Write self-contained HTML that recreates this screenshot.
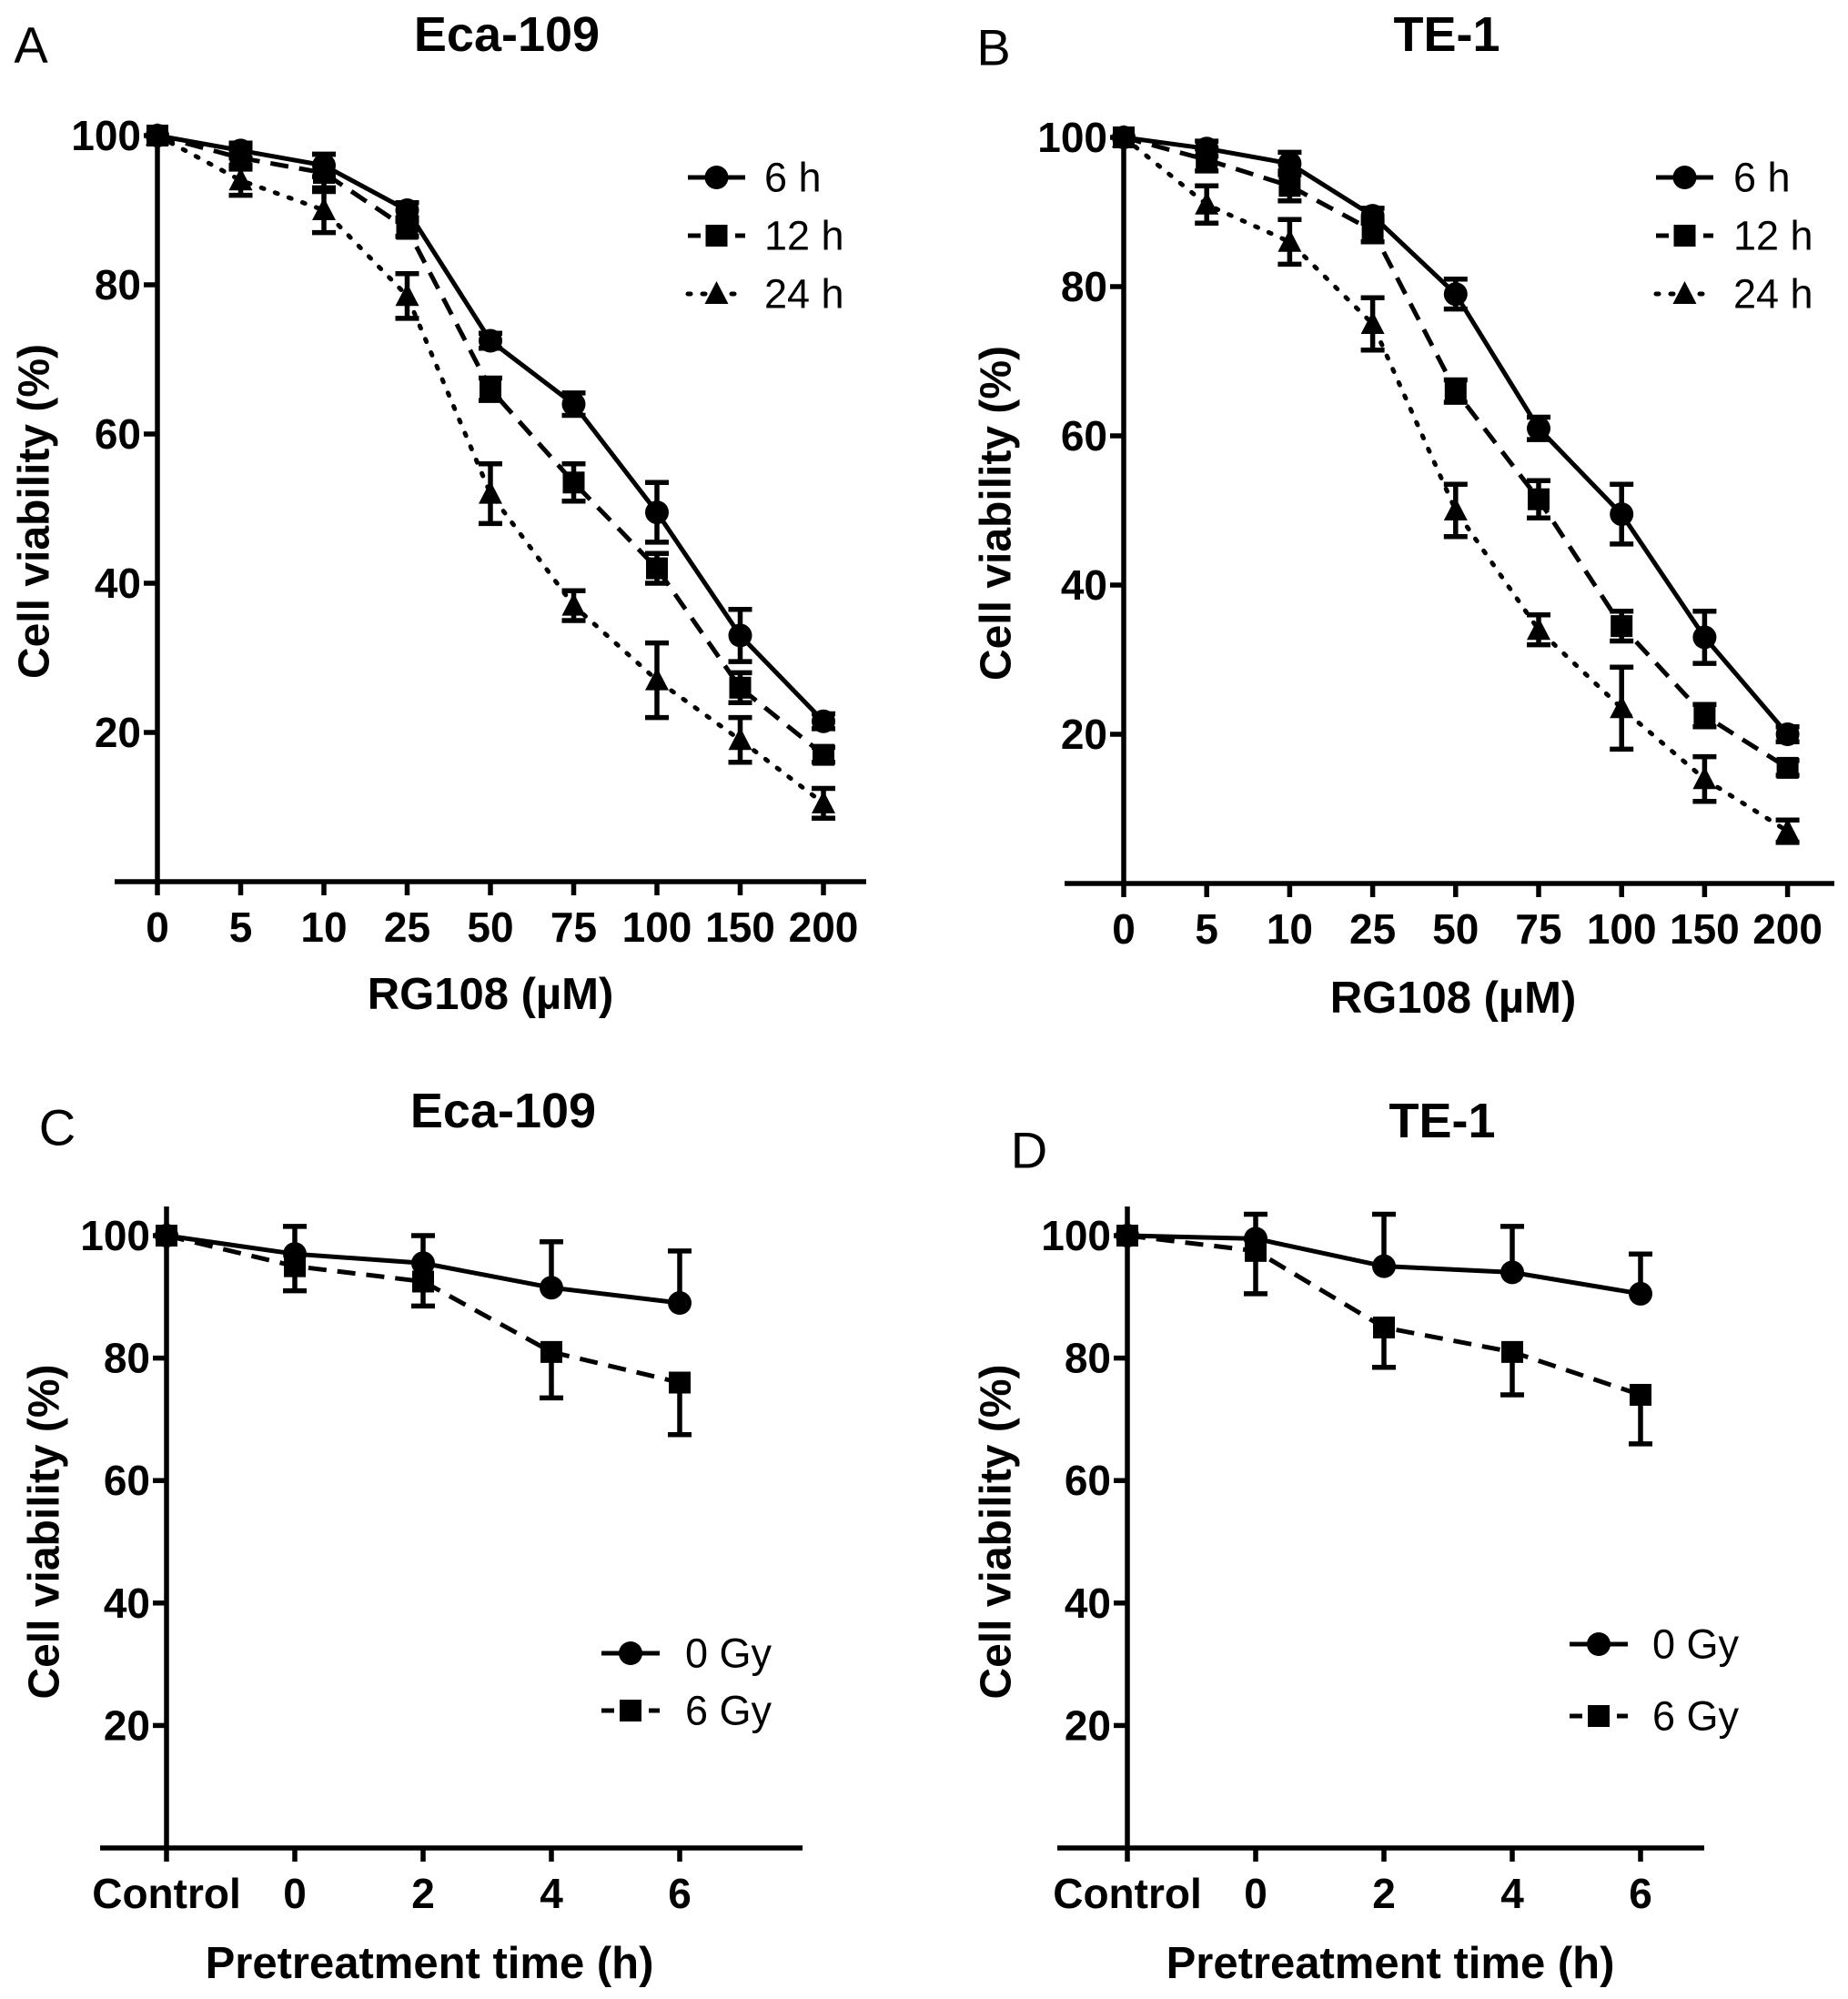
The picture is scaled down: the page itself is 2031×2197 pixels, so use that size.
<!DOCTYPE html>
<html><head><meta charset="utf-8">
<style>
body{margin:0;background:#fff;}
svg{display:block;}
text{font-family:"Liberation Sans",Arial,sans-serif;fill:#000;}
</style></head>
<body>
<svg id="fig" width="2031" height="2197" viewBox="0 0 2031 2197" xmlns="http://www.w3.org/2000/svg"></svg>
<script>
// Panel A/B data
const doseLabels = ["0","5","10","25","50","75","100","150","200"];
const yTicksTop = [20,40,60,80,100];
const a6 = [100,98,96,90,72.5,64,49.5,33,21.5];
const a6e = [0,1,1.5,1,1,1.5,4,3.5,1];
const a12 = [100,97,95,87.5,66,53.5,42,26,17];
const a12e = [0,1.5,2.5,1,1.5,2.5,2,2,1];
const a24 = [100,94,90,78.5,52,37,27,19,10.5];
const a24e = [0,2,3,3,4,2,5,3,2];
const b6 = [100,98.5,96.5,89.5,79,61,49.5,33,20];
const b6e = [0,1,1.5,1,2,1.5,4,3.5,1];
const b12 = [100,97,93.5,87.5,66,51.5,34.5,22.5,15.5];
const b12e = [0,1.5,2,1.5,1.5,2.5,2,1.5,1];
const b24 = [100,91,86,75,50,34,23.5,14,7];
const b24e = [0,2.5,3,3.5,3.5,2,5.5,3,1.5];
// Panel C/D data
const timeLabels = ["Control","0","2","4","6"];
const c0 = [100,97,95.5,91.5,89];
const c0e = [0,4.5,4.5,7.5,8.5];
const c6 = [100,95,92.5,81,76];
const c6e = [0,4,4,7.5,8.5];
const d0 = [100,99.5,95,94,90.5];
const d0e = [0,4,8.5,7.5,6.5];
const d6 = [100,97.5,85,81,74];
const d6e = [0,7,6.5,7,8];

const NS="http://www.w3.org/2000/svg";
const svg=document.getElementById('fig');
function el(tag,attrs,parent){const e=document.createElementNS(NS,tag);for(const k in attrs)e.setAttribute(k,attrs[k]);(parent||svg).appendChild(e);return e;}
function txt(s,x,y,size,bold,anchor,parent,name,rot){
  const t=el('text',{x:x,y:y,'font-size':size,'text-anchor':anchor||'middle','dominant-baseline':'central'},parent);
  if(bold)t.setAttribute('font-weight','bold');
  if(rot)t.setAttribute('transform','rotate(-90 '+x+' '+y+')');
  t.textContent=s;
  
  
  return t;}
const dashes={solid:null,dash:"20 12",dot:"3 13"};
function marker(kind,x,y,g){
  let m;
  if(kind==='circle')m=el('circle',{cx:x,cy:y,r:13,fill:'#000'},g);
  else if(kind==='square')m=el('rect',{x:x-12,y:y-12,width:24,height:24,fill:'#000'},g);
  else m=el('polygon',{points:(x)+','+(y-14)+' '+(x-13)+','+(y+11)+' '+(x+13)+','+(y+11),fill:'#000'},g);
  return m;}

function panel(o){
  const g=el('g',{});
  
  
  const n=o.labels.length;
  const xs=i=>o.x0+i*o.dx;
  const ys=v=>o.y0-v*o.ky;
  const ax=el('line',{x1:o.xa0,y1:o.y0,x2:o.xa1,y2:o.y0,stroke:'#000','stroke-width':5.5},g);
  
  const ay=el('line',{x1:o.x0,y1:o.y0+2,x2:o.x0,y2:o.ytop,stroke:'#000','stroke-width':5.5},g);
  
  for(let i=0;i<n;i++){
    const t=el('line',{x1:xs(i),y1:o.y0,x2:xs(i),y2:o.y0+15,stroke:'#000','stroke-width':5.5},g);
    
    txt(o.labels[i],xs(i),o.y0+50,46,true,'middle',g,'x-tick-label');
  }
  for(const v of o.yt){
    const t=el('line',{x1:o.x0-15,y1:ys(v),x2:o.x0,y2:ys(v),stroke:'#000','stroke-width':5.5},g);
    
    txt(String(v),o.x0-18,ys(v),46,true,'end',g,'y-tick-label');
  }
  txt(o.title,o.tx,o.ty,54,true,'middle',g,'chart-title');
  txt(o.letter,o.lx,o.ly,56,false,'middle',g,'panel-label');
  txt('Cell viability (%)',o.ytx,(o.y0+o.ytop)/2+5,48,true,'middle',g,'y-axis-title',true);
  txt(o.xtitle,o.xtx,o.xty,49,true,'middle',g,'x-axis-title');
  o.series.forEach((s,si)=>{
    const sg=el('g',{},g);
    
    
    let d='';
    s.v.forEach((v,i)=>{d+=(i?'L':'M')+xs(i)+' '+ys(v);});
    const p=el('path',{d:d,fill:'none',stroke:'#000','stroke-width':5},sg);
    if(dashes[s.style])p.setAttribute('stroke-dasharray',dashes[s.style]);
    if(s.style==='dot')p.setAttribute('stroke-linecap','round');
    
    s.v.forEach((v,i)=>{
      const e=s.e[i];
      if(e>0){
        const up=s.side!=='down', dn=s.side!=='up';
        const top=up?ys(v+e):ys(v), bot=dn?ys(v-e):ys(v);
        let dd='M'+xs(i)+' '+top+'V'+bot;
        if(up)dd+='M'+(xs(i)-13)+' '+top+'h26';
        if(dn)dd+='M'+(xs(i)-13)+' '+bot+'h26';
        const eb=el('path',{d:dd,stroke:'#000','stroke-width':5.5,fill:'none'},sg);
        
      }
      const m=marker(s.marker,xs(i),ys(v),sg);
      
    });
    const lg=el('g',{},g);
    
    const ly=o.legY[si];
    const ll=el('line',{x1:o.legX0,y1:ly,x2:o.legX1,y2:ly,stroke:'#000','stroke-width':5},lg);
    if(dashes[s.style])ll.setAttribute('stroke-dasharray',s.style==='dash'?'14 12':'3 13');
    if(s.style==='dot')ll.setAttribute('stroke-linecap','round');
    marker(s.marker,(o.legX0+o.legX1)/2,ly,lg);
    txt(s.label,o.legTx,ly,45,false,'start',lg,'legend-label');
  });
}
const topY0=969, topKy=8.2;
panel({name:'panel-a',labels:doseLabels,yt:yTicksTop,x0:173,dx:91.5,y0:topY0,ky:topKy,xa0:126,xa1:952,ytop:145,
  title:'Eca-109',tx:557,ty:38,letter:'A',lx:34,ly:49,ytx:38,xtitle:'RG108 (µM)',xtx:539,xty:1093,
  legX0:756,legX1:819,legY:[195,259,323],legTx:840,
  series:[{label:'6  h',v:a6,e:a6e,style:'solid',marker:'circle'},{label:'12 h',v:a12,e:a12e,style:'dash',marker:'square'},{label:'24 h',v:a24,e:a24e,style:'dot',marker:'tri'}]});
panel({name:'panel-b',labels:doseLabels,yt:yTicksTop,x0:1235,dx:91.2,y0:topY0+2,ky:topKy,xa0:1170,xa1:2016,ytop:147,
  title:'TE-1',tx:1590,ty:38,letter:'B',lx:1092,ly:52,ytx:1095,xtitle:'RG108 (µM)',xtx:1597,xty:1097,
  legX0:1820,legX1:1883,legY:[195,259,323],legTx:1905,
  series:[{label:'6  h',v:b6,e:b6e,style:'solid',marker:'circle'},{label:'12 h',v:b12,e:b12e,style:'dash',marker:'square'},{label:'24 h',v:b24,e:b24e,style:'dot',marker:'tri'}]});
panel({name:'panel-c',labels:timeLabels,yt:yTicksTop,x0:183,dx:141,y0:2031,ky:6.73,xa0:110,xa1:882,ytop:1326,
  title:'Eca-109',tx:553,ty:1221,letter:'C',lx:63,ly:1239,ytx:49,xtitle:'Pretreatment time (h)',xtx:472,xty:2158,
  legX0:661,legX1:725,legY:[1817,1880],legTx:753,
  series:[{label:'0 Gy',v:c0,e:c0e,style:'solid',marker:'circle',side:'up'},{label:'6 Gy',v:c6,e:c6e,style:'dash',marker:'square',side:'down'}]});
panel({name:'panel-d',labels:timeLabels,yt:yTicksTop,x0:1239,dx:141,y0:2031,ky:6.73,xa0:1162,xa1:1873,ytop:1326,
  title:'TE-1',tx:1585,ty:1232,letter:'D',lx:1131,ly:1264,ytx:1095,xtitle:'Pretreatment time (h)',xtx:1528,xty:2158,
  legX0:1725,legX1:1789,legY:[1807,1886],legTx:1816,
  series:[{label:'0 Gy',v:d0,e:d0e,style:'solid',marker:'circle',side:'up'},{label:'6 Gy',v:d6,e:d6e,style:'dash',marker:'square',side:'down'}]});
</script>
</body></html>
